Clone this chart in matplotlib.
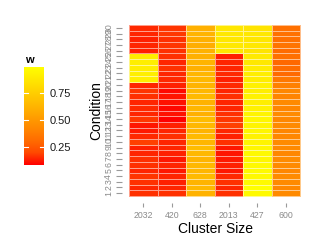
import numpy as np
import matplotlib
matplotlib.use("Agg")
import matplotlib.pyplot as plt
from matplotlib.colors import LinearSegmentedColormap

# heatmap of w by cluster size (columns) and condition (rows 1..30)
clusters = ["2032", "420", "628", "2013", "427", "600"]
conditions = [str(i) for i in range(1, 31)]

w_2032 = [0.155, 0.14, 0.155, 0.163, 0.14, 0.155, 0.155, 0.14, 0.13, 0.18,
          0.145, 0.12, 0.113, 0.167, 0.14, 0.145, 0.14, 0.155, 0.163, 0.137,
          0.906, 0.91, 0.90, 0.905, 0.90, 0.13, 0.14, 0.13, 0.14, 0.145]
w_420 = [0.155, 0.14, 0.13, 0.14, 0.117, 0.14, 0.117, 0.13, 0.14, 0.14,
         0.155, 0.14, 0.13, 0.08, 0.105, 0.093, 0.105, 0.113, 0.095, 0.13,
         0.145, 0.14, 0.155, 0.14, 0.155, 0.155, 0.163, 0.158, 0.167, 0.163]
w_628 = [0.612, 0.64, 0.621, 0.649, 0.63, 0.64, 0.621, 0.64, 0.659, 0.63,
         0.649, 0.621, 0.64, 0.659, 0.603, 0.63, 0.612, 0.649, 0.64, 0.621,
         0.64, 0.63, 0.603, 0.621, 0.603, 0.612, 0.594, 0.603, 0.621, 0.603]
w_2013 = [0.155, 0.14, 0.155, 0.145, 0.117, 0.13, 0.12, 0.113, 0.117, 0.155,
          0.13, 0.14, 0.18, 0.167, 0.155, 0.14, 0.137, 0.155, 0.14, 0.145,
          0.13, 0.145, 0.14, 0.14, 0.13, 0.876, 0.88, 0.87, 0.876, 0.87]
w_427 = [0.965, 0.99, 0.965, 0.955, 0.965, 0.955, 0.945, 0.955, 0.945, 0.935,
         0.926, 0.945, 0.935, 0.945, 0.935, 0.916, 0.906, 0.926, 0.906, 0.916,
         0.896, 0.906, 0.896, 0.876, 0.886, 0.856, 0.876, 0.866, 0.876, 0.856]
w_600 = [0.43, 0.421, 0.43, 0.439, 0.421, 0.43, 0.439, 0.421, 0.43, 0.439,
         0.421, 0.413, 0.43, 0.421, 0.439, 0.413, 0.43, 0.405, 0.421, 0.389,
         0.357, 0.301, 0.308, 0.295, 0.324, 0.308, 0.34, 0.324, 0.332, 0.324]

legend_breaks = [0.25, 0.50, 0.75]

W = np.array([w_2032, w_420, w_628, w_2013, w_427, w_600]).T
vmin, vmax = W.min(), W.max()

# red -> yellow, roughly like ggplot's Lab gradient
cmap = LinearSegmentedColormap.from_list(
    "ry", ["#FF0000", "#FF4900", "#FF6C00", "#FF8800", "#FFA100",
           "#FFBA00", "#FFD100", "#FFE800", "#FFFF00"])

plt.rcParams['font.family'] = ['Liberation Sans', 'DejaVu Sans']

W_PX, H_PX = 327, 245
fig = plt.figure(figsize=(W_PX / 100, H_PX / 100), dpi=100)

def box(l, t, r, b):
    return [l / W_PX, 1 - b / H_PX, (r - l) / W_PX, (b - t) / H_PX]

ax = fig.add_axes(box(126.2, 24.4, 302.9, 196.6))
ax.pcolormesh(np.arange(len(clusters) + 1) - 0.5,
              np.arange(len(conditions) + 1) - 0.5,
              W, cmap=cmap, vmin=vmin, vmax=vmax,
              edgecolors=(1, 1, 1, 0.55), linewidth=0.5)
ax.set_xlim(-0.6, len(clusters) - 0.4)
ax.set_ylim(-0.6, len(conditions) - 0.4)
for s in ax.spines.values():
    s.set_visible(False)
ax.spines['left'].set_position(('outward', 3))
ax.spines['bottom'].set_position(('outward', 4.3))

ax.set_xticks(range(len(clusters)))
ax.set_xticklabels(clusters)
ax.set_yticks(range(len(conditions)))
ax.set_yticklabels(conditions, rotation=90, va='center')
ax.tick_params(axis='y', length=4.3, width=0.8, color='#9a9a9a',
               labelsize=6.3, labelcolor='#8a8a8a', pad=2)
ax.tick_params(axis='x', length=2.9, width=0.8, color='#9a9a9a',
               labelsize=6.3, labelcolor='#8a8a8a', pad=3)

fig.text(215 / W_PX, 1 - 229 / H_PX, "Cluster Size", ha='center', va='center',
         fontsize=10)
fig.text(96 / W_PX, 1 - 110.5 / H_PX, "Condition", ha='center', va='center',
         rotation=90, fontsize=10)

# colourbar legend
cax = fig.add_axes(box(24, 67, 44, 165))
grad = np.linspace(vmin, vmax, 256).reshape(-1, 1)
cax.imshow(grad, aspect='auto', origin='lower', cmap=cmap, vmin=vmin, vmax=vmax,
           extent=[0, 1, vmin, vmax])
cax.set_xlim(0, 1)
cax.set_ylim(vmin, vmax)
for s in cax.spines.values():
    s.set_visible(False)
cax.set_xticks([])
cax.yaxis.tick_right()
cax.set_yticks(legend_breaks)
cax.set_yticklabels(["%.2f" % b for b in legend_breaks])
cax.tick_params(axis='y', length=0, labelsize=8, labelcolor='#1a1a1a', pad=4)
for b in legend_breaks:
    cax.plot([0, 0.2], [b, b], color='white', lw=0.8)
    cax.plot([0.8, 1], [b, b], color='white', lw=0.8)
fig.text(29 / W_PX, 1 - 60 / H_PX, "w", ha='center', va='center',
         fontsize=8, fontweight='bold')

fig.savefig("out.png", dpi=100)
